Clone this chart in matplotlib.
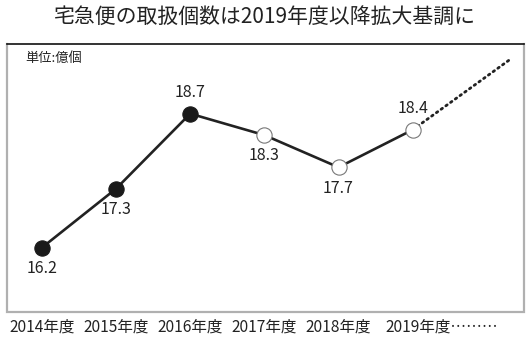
import matplotlib.pyplot as plt

plt.rcParams['font.family'] = ['Noto Sans CJK JP', 'DejaVu Sans']

years = ['2014年度', '2015年度', '2016年度', '2017年度', '2018年度', '2019年度']
values = [16.2, 17.3, 18.7, 18.3, 17.7, 18.4]
filled = [True, True, True, False, False, False]
label_above = [False, False, True, False, False, True]
# dotted trend continuing after 2019
trend_x = [5, 6.3]
trend_y = [18.4, 19.7]

W, H = 529, 343
fig = plt.figure(figsize=(W / 100, H / 100), dpi=100)
fig.patch.set_facecolor('white')

x0, x1, y0, y1 = 7, 524, 44, 312
ax = fig.add_axes([x0 / W, 1 - y1 / H, (x1 - x0) / W, (y1 - y0) / H])
ax.set_xlim(-0.47, 6.5)
ax.set_ylim(15.0, 20.0)
for s in ax.spines.values():
    s.set_visible(False)
ax.set_xticks([])
ax.set_yticks([])

# frame: gray sides/bottom, black top
ax.plot([0, 0, 1, 1], [1, 0, 0, 1], transform=ax.transAxes, color='#b0b0b0',
        lw=1.6, clip_on=False, solid_joinstyle='miter')
ax.plot([0, 1], [1, 1], transform=ax.transAxes, color='#111111', lw=1.2, clip_on=False)

xs = list(range(len(values)))
ax.plot(trend_x, trend_y, color='#222222', lw=2.0, ls=(0, (0.6, 1.5)),
        dash_capstyle='round', zorder=2)
ax.plot(xs, values, color='#222222', lw=1.9, zorder=3)
for x, v, f, up in zip(xs, values, filled, label_above):
    ax.plot(x, v, 'o', ms=11, mfc='#1a1a1a' if f else 'white',
            mec='#1a1a1a' if f else '#777777', mew=0.8, zorder=4)
    if up:
        ax.text(x, v + 0.23, f'{v:.1f}', ha='center', va='bottom', fontsize=11.5, color='#222222')
    else:
        ax.text(x, v - 0.23, f'{v:.1f}', ha='center', va='top', fontsize=11.5, color='#222222')

ax.text(0.035, 0.945, '単位:億個', transform=ax.transAxes, ha='left', va='center',
        fontsize=9.5, color='#222222')

for x, yr in zip(xs, years):
    xd = ax.transData.transform((x, 0))[0] / W
    if x == len(years) - 1:
        fig.text(xd - 0.052, 1 - 327 / H, yr + '………', ha='left', va='center',
                 fontsize=11.2, color='#222222')
    else:
        fig.text(xd, 1 - 327 / H, yr, ha='center', va='center', fontsize=11.2, color='#222222')

fig.text(0.5, 1 - 17 / H, '宅急便の取扱個数は2019年度以降拡大基調に', ha='center', va='center',
         fontsize=15, color='#222222')

fig.savefig('out.png', dpi=100)
